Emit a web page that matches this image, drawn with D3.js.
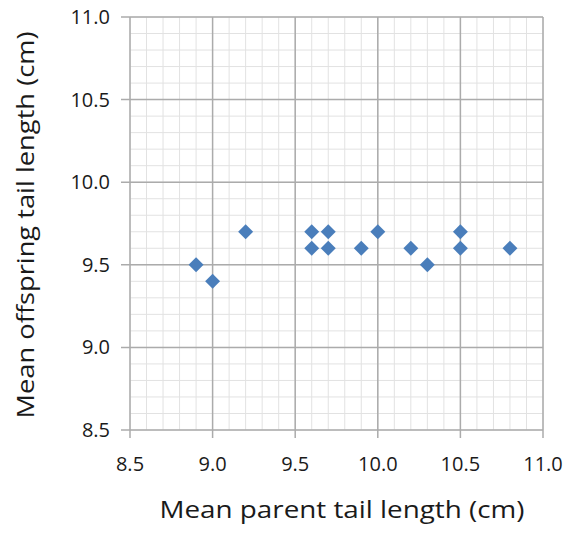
<!DOCTYPE html>
<html>
<head>
<meta charset="utf-8">
<script src="https://cdn.jsdelivr.net/npm/d3@7"></script>
<style>
	body { margin: 0; background: #fff; }
	text { font-family: "Open Sans", sans-serif; fill: #1a1a1a; }
</style>
</head>
<body>
<svg id="chart" width="570" height="534"></svg>
<script>

// mean parent tail length (cm)
var parent = [8.9, 9.0, 9.2, 9.6, 9.6, 9.7, 9.7, 9.9, 10.0, 10.2, 10.3, 10.5, 10.5, 10.8];
// mean offspring tail length (cm)
var offspring = [9.5, 9.4, 9.7, 9.7, 9.6, 9.7, 9.6, 9.6, 9.7, 9.6, 9.5, 9.7, 9.6, 9.6];

var ticks = [8.5, 9.0, 9.5, 10.0, 10.5, 11.0];
var xTitle = "Mean parent tail length (cm)";
var yTitle = "Mean offspring tail length (cm)";

const margin = { top: 17, right: 27, bottom: 104, left: 130 },
	width = 570 - margin.left - margin.right,
	height = 534 - margin.top - margin.bottom;

var svg = d3.select("#chart");
var g = svg.append("g").attr("transform", `translate(${margin.left},${margin.top})`);

var x = d3.scaleLinear([8.5, 11.0], [0, width]);
var y = d3.scaleLinear([8.5, 11.0], [height, 0]);

// minor grid every 0.1
var minor = d3.range(85, 111).map(d => d / 10);

g.selectAll(".vminor").data(minor).join("line")
	.attr("x1", d => x(d)).attr("x2", d => x(d))
	.attr("y1", 0).attr("y2", height)
	.attr("stroke", "#e2e2e2").attr("stroke-width", 1);
g.selectAll(".hminor").data(minor).join("line")
	.attr("y1", d => y(d)).attr("y2", d => y(d))
	.attr("x1", 0).attr("x2", width)
	.attr("stroke", "#e2e2e2").attr("stroke-width", 1);

// major grid
g.selectAll(".vmajor").data(ticks).join("line")
	.attr("x1", d => x(d)).attr("x2", d => x(d))
	.attr("y1", 0).attr("y2", height + 8)
	.attr("stroke", "#ababab").attr("stroke-width", 1.5);
g.selectAll(".hmajor").data(ticks).join("line")
	.attr("y1", d => y(d)).attr("y2", d => y(d))
	.attr("x1", -9).attr("x2", width)
	.attr("stroke", "#ababab").attr("stroke-width", 1.5);

// tick labels
g.selectAll(".xlab").data(ticks).join("text")
	.attr("x", d => x(d)).attr("y", height + 41)
	.attr("text-anchor", "middle")
	.style("font-size", "20px")
	.text(d => d.toFixed(1));
g.selectAll(".ylab").data(ticks).join("text")
	.attr("x", -20).attr("y", d => y(d) + 7)
	.attr("text-anchor", "end")
	.style("font-size", "20px")
	.text(d => d.toFixed(1));

// points
var pts = parent.map((p, i) => ({ x: p, y: offspring[i] }));
g.selectAll(".pt").data(pts).join("path")
	.attr("d", d3.symbol(d3.symbolSquare, 112))
	.attr("transform", d => `translate(${x(d.x)},${y(d.y)}) rotate(45)`)
	.attr("fill", "#4a7ebb");

// axis titles
svg.append("text")
	.attr("x", 342).attr("y", 518)
	.attr("text-anchor", "middle")
	.style("font-size", "23px")
	.attr("textLength", 365).attr("lengthAdjust", "spacingAndGlyphs")
	.text(xTitle);

svg.append("text")
	.attr("transform", "translate(34,225) rotate(-90)")
	.attr("text-anchor", "middle")
	.style("font-size", "23px")
	.attr("textLength", 387).attr("lengthAdjust", "spacingAndGlyphs")
	.text(yTitle);

</script>
</body>
</html>
